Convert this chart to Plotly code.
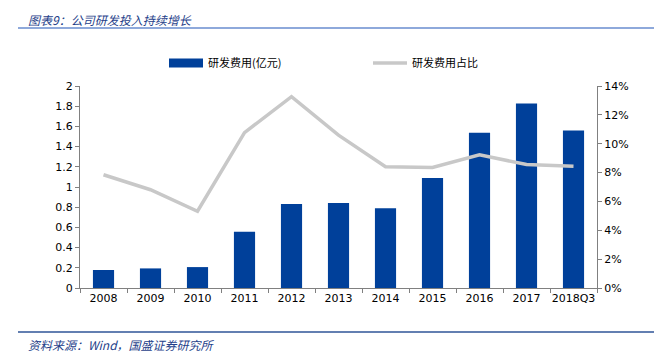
import plotly.graph_objects as go

categories = ["2008", "2009", "2010", "2011", "2012", "2013", "2014", "2015", "2016", "2017", "2018Q3"]
rd_expense = [0.178, 0.194, 0.207, 0.556, 0.832, 0.842, 0.79, 1.089, 1.537, 1.826, 1.56]
rd_ratio = [7.85, 6.81, 5.32, 10.77, 13.26, 10.59, 8.40, 8.36, 9.23, 8.56, 8.43]
left_ticks = [0, 0.2, 0.4, 0.6, 0.8, 1, 1.2, 1.4, 1.6, 1.8, 2]
left_labels = ["0", "0.2", "0.4", "0.6", "0.8", "1", "1.2", "1.4", "1.6", "1.8", "2"]
right_ticks = [0, 2, 4, 6, 8, 10, 12, 14]
right_labels = ["0%", "2%", "4%", "6%", "8%", "10%", "12%", "14%"]

title_text = "图表9：公司研发投入持续增长"
source_text = "资料来源：Wind，国盛证券研究所"

tick_font = dict(family="DejaVu Sans", size=11, color="#000000")
cjk = "Noto Sans CJK SC"
bar_color = "#00409A"

fig = go.Figure()
fig.add_trace(go.Bar(
    x=categories, y=rd_expense, name="研发费用(亿元)",
    marker=dict(color=bar_color, line=dict(width=0)),
    yaxis="y", showlegend=False,
))
# legend proxy for the bar series (wide rectangle swatch)
fig.add_trace(go.Scatter(
    x=[None], y=[None], name="研发费用(亿元)", mode="lines",
    line=dict(color=bar_color, width=9), yaxis="y", showlegend=True,
))
fig.add_trace(go.Scatter(
    x=categories, y=rd_ratio, name="研发费用占比",
    mode="lines", line=dict(color="#C8C8C8", width=3.5),
    yaxis="y2",
))

OFF = 8  # page body margin offset
W, H = 662 - OFF, 358 - OFF
L, R, T, B = 80 - OFF, 65, 86 - OFF, 70
pw = W - L - R
ph = H - T - B

def px(xp):
    return (xp - OFF - L) / pw

def py(yp):
    return (H - B - (yp - OFF)) / ph

fig.update_layout(
    width=W, height=H,
    margin=dict(l=L, r=R, t=T, b=B, autoexpand=False),
    paper_bgcolor="white", plot_bgcolor="white",
    bargap=0.55,
    showlegend=True,
    legend=dict(
        orientation="h", x=px(164), y=py(63), xanchor="left", yanchor="middle",
        entrywidth=155, entrywidthmode="pixels",
        font=dict(family=cjk, size=11, color="#000000"),
        itemwidth=34, bgcolor="rgba(0,0,0,0)", traceorder="normal",
    ),
    xaxis=dict(
        type="category", showline=True, linecolor="#808080", linewidth=1,
        ticks="outside", tickson="boundaries", ticklen=4, tickcolor="#808080",
        tickfont=tick_font, showgrid=False, zeroline=False, tickangle=0, automargin=False,
    ),
    yaxis=dict(
        range=[0, 2], tickvals=left_ticks, ticktext=left_labels,
        showline=True, linecolor="#808080", linewidth=1,
        ticks="outside", ticklen=4, tickcolor="#808080",
        tickfont=tick_font, showgrid=False, zeroline=False, automargin=False,
    ),
    yaxis2=dict(
        range=[0, 14], tickvals=right_ticks, ticktext=right_labels,
        overlaying="y", side="right",
        showline=True, linecolor="#808080", linewidth=1,
        ticks="outside", ticklen=4, tickcolor="#808080",
        tickfont=tick_font, showgrid=False, zeroline=False, automargin=False,
    ),
    shapes=[
        dict(type="line", xref="paper", yref="paper", x0=px(18), x1=px(662), y0=py(28), y1=py(28),
             line=dict(color="#8EA9DB", width=2)),
        dict(type="line", xref="paper", yref="paper", x0=px(18), x1=px(662), y0=py(332), y1=py(332),
             line=dict(color="#2F5597", width=1.5)),
    ],
    annotations=[
        dict(text=title_text, xref="paper", yref="paper", x=px(26), y=py(8.5),
             xanchor="left", yanchor="top", showarrow=False,
             font=dict(family=cjk, size=12, color="#1F3F8A", style="italic")),
        dict(text=source_text, xref="paper", yref="paper", x=px(26), y=py(344),
             xanchor="left", yanchor="middle", showarrow=False,
             font=dict(family=cjk, size=12, color="#1F3F8A", style="italic")),
    ],
)

fig.write_html("out.html")
